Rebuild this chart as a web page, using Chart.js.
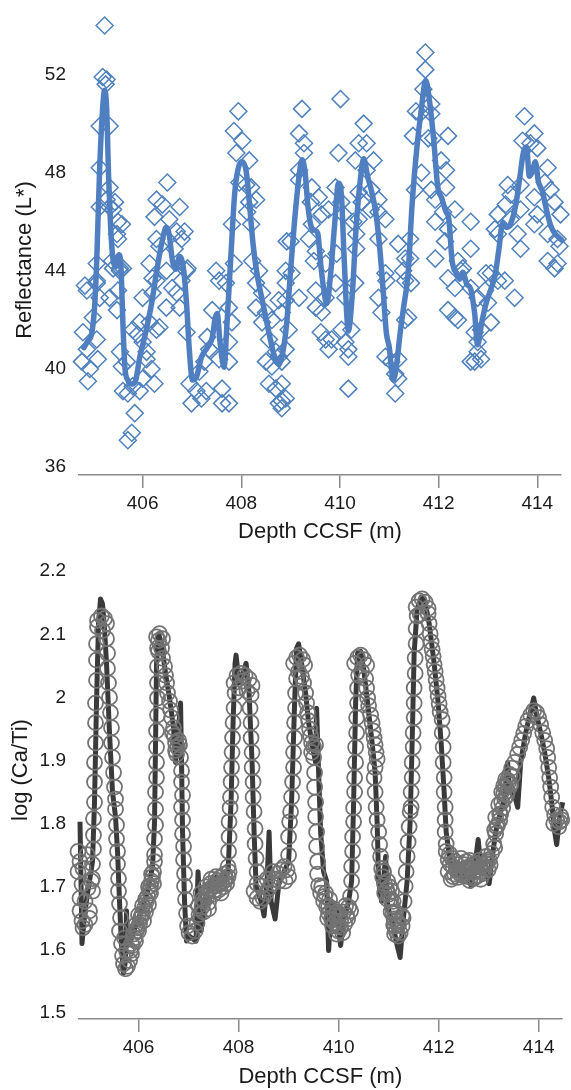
<!DOCTYPE html>
<html>
<head>
<meta charset="utf-8">
<script src="https://cdn.jsdelivr.net/npm/chart.js@4.4.0/dist/chart.umd.min.js"></script>
<style>
  body { margin: 0; background: #fff; }
  canvas { display: block; }
</style>
</head>
<body>
<canvas id="reflChart" width="571" height="545"></canvas>
<canvas id="caTiChart" width="571" height="545"></canvas>
<script>
// ---- data ----
const depthTicks = [406, 408, 410, 412, 414];
const reflTicks = [36, 40, 44, 48, 52];
const caTiTicks = [1.5, 1.6, 1.7, 1.8, 1.9, 2.0, 2.1, 2.2];

// reflectance L* measurements (diamonds): [depth m, L*]
const reflPoints = [
  [405.23,54.0],[405.19,51.9],[405.27,51.8],[405.25,51.6],[405.13,49.9],[405.33,49.9],[405.13,48.2],[405.33,47.4],
  [405.13,46.6],[405.33,46.6],[405.40,46.5],[405.27,46.9],[405.44,46.8],[405.50,46.0],[405.58,45.9],[405.48,45.5],
  [405.50,45.3],[405.38,44.4],[405.54,44.1],[405.60,44.1],[405.07,44.3],[405.07,43.6],[404.83,43.4],
  [406.50,47.6],[406.28,46.9],[406.40,46.7],[406.75,46.6],[406.24,46.2],[406.54,46.1],[406.28,45.3],[406.69,45.6],
  [406.85,45.6],[406.79,45.3],[406.34,45.0],[406.65,44.9],[406.14,44.3],[406.91,44.1],[406.20,43.7],[406.79,43.6],
  [407.94,50.5],[407.85,49.7],[408.02,49.3],[407.90,48.8],[408.16,48.5],[408.10,47.5],[407.96,47.6],[408.20,47.4],
  [408.16,46.8],[407.81,45.9],[408.12,46.4],[408.20,45.9],[408.30,46.9],[408.22,44.4],[407.85,44.3],[408.36,44.0],
  [407.49,44.0],[407.55,43.6],[408.92,45.2],[408.90,44.0],
  [409.23,50.6],[409.17,49.6],[409.27,49.2],[409.27,48.8],[409.17,48.1],[409.17,47.7],[409.43,47.4],[409.57,47.0],
  [409.41,46.8],[409.63,46.3],[409.43,45.9],[409.37,45.3],[409.00,45.2],[409.51,44.8],[409.47,44.4],
  [410.01,51.0],[409.97,48.8],[409.91,47.4],[410.03,46.8],[409.77,46.5],[410.07,46.3],[410.27,46.0],[410.33,44.9],
  [409.93,44.7],[409.71,44.3],
  [410.48,50.0],[410.38,49.2],[410.54,49.2],[410.31,48.5],[410.68,48.5],[410.54,48.1],[410.38,47.2],[410.64,47.3],
  [410.78,46.9],[410.44,46.8],[410.62,46.5],[410.78,46.4],[410.92,46.1],[410.38,46.1],[410.78,45.3],[410.33,45.5],
  [411.18,45.1],[410.94,43.6],[411.32,44.5],
  [411.73,52.9],[411.73,52.2],[411.69,51.4],[411.85,50.8],[411.54,50.5],[411.62,50.4],[411.85,50.4],[411.89,49.4],
  [411.48,49.5],[412.19,49.5],[411.79,49.4],[411.65,48.0],[411.52,47.3],[412.05,48.5],[412.15,48.1],[411.85,47.3],
  [411.93,46.9],[412.15,47.4],[412.09,46.4],[412.33,46.5],[411.93,46.0],[412.19,45.7],[412.65,46.0],[412.13,45.2],
  [412.65,44.9],[411.93,44.5],[412.39,44.4],[412.49,44.1],[411.42,45.3],[411.42,44.5],[411.28,44.0],
  [413.74,50.3],[413.94,49.6],[413.70,49.3],[414.00,49.0],[413.86,49.2],[413.40,47.5],[413.46,47.1],[413.66,47.5],
  [414.21,48.2],[414.15,47.6],[413.94,47.0],[414.35,46.8],[414.27,47.3],[414.47,46.3],[414.00,46.3],[413.36,46.7],
  [413.20,46.3],[413.14,45.7],[413.46,46.1],[413.66,46.5],[413.94,45.9],[414.21,45.5],[414.41,45.3],[413.20,45.5],
  [413.60,45.5],[413.66,44.9],[414.21,44.4],[414.41,44.3],[414.45,45.0],[412.96,43.9],
  [404.87,43.2],[405.07,43.5],[405.13,42.9],[404.99,42.1],[404.79,41.5],[404.87,40.8],[404.77,40.3],[404.93,40.0],
  [404.89,39.5],[405.09,40.4],[405.07,41.2],[405.33,42.9],[405.48,42.4],[405.50,43.2],[405.54,44.0],[405.40,44.1],
  [405.54,40.7],[405.58,40.1],[405.68,40.3],[405.60,39.1],[405.70,39.0],[405.80,39.3],[405.94,39.1],[405.84,38.2],
  [405.78,37.4],[405.70,37.1],[405.80,41.6],[405.90,41.4],[406.00,41.1],[406.08,40.4],[406.00,39.6],[406.24,39.4],
  [406.08,40.7],[406.18,40.0],[405.94,41.9],[406.14,41.9],
  [406.00,42.9],[406.20,43.1],[406.28,43.6],[406.48,44.0],[406.28,41.6],[406.34,41.7],[406.48,42.5],[406.69,43.1],
  [406.75,42.5],[406.60,43.3],[406.89,44.0],
  [406.89,41.5],[406.95,39.4],[407.09,39.1],[406.99,38.6],[407.19,38.8],[407.29,39.1],[407.15,39.9],[407.25,40.3],
  [407.35,40.8],[407.31,41.3],[407.69,43.5],[407.41,42.4],[407.75,42.5],[407.81,41.9],[407.75,41.1],[407.75,40.3],
  [407.61,39.2],[407.61,38.6],[407.75,38.6],[407.55,40.4],
  [408.30,43.5],[408.42,43.1],[408.30,42.5],[408.50,42.3],[408.42,41.9],[408.62,42.0],[408.56,41.2],[408.70,40.7],
  [408.50,40.3],[408.62,40.1],[408.76,40.5],[408.56,39.4],[408.70,39.2],[408.82,38.7],[408.76,38.6],[408.90,43.5],
  [408.90,42.8],[408.82,42.3],
  [408.76,42.8],[408.96,41.6],[408.90,40.8],[408.82,40.3],[408.82,39.4],[408.90,38.8],[408.82,38.4],[409.02,43.9],
  [409.17,42.9],[409.51,42.5],[409.63,42.3],[409.71,41.2],[409.61,41.5],[409.83,41.2],[409.77,40.8],[410.03,41.6],
  [410.11,41.1],[410.23,41.6],[410.17,40.8],[410.17,40.5],[410.17,39.2],[410.11,42.9],[409.91,43.5],[410.31,43.5],
  [409.51,43.2],[409.71,42.9],
  [410.78,42.9],[410.84,42.3],[410.92,40.5],[411.04,40.3],[411.12,39.8],[411.18,40.4],[411.18,39.6],[411.12,39.0],
  [411.32,42.0],[411.38,42.1],[411.44,43.5],[411.32,43.6],[410.92,43.9],
  [412.19,43.7],[412.33,43.3],[412.19,42.4],[412.33,42.1],[412.39,42.0],[412.65,43.3],[412.79,42.9],[412.94,43.2],
  [413.06,43.9],[413.20,43.6],[413.34,43.6],[413.54,42.9],[413.00,42.7],[413.06,41.9],[412.86,41.6],[412.73,41.5],
  [412.79,41.1],[412.79,40.7],[412.73,40.3],[412.86,40.4],[412.65,40.3],[412.45,44.0],[414.35,44.1]
];

// smoothed reflectance curve: [depth m, L*]
const reflSmooth = [
  [404.81,40.87],[404.89,41.15],[404.97,41.47],[405.03,42.66],[405.07,44.46],[405.13,48.25],[405.19,50.64],
  [405.23,51.36],[405.27,50.64],[405.31,47.85],[405.35,45.85],[405.40,44.46],[405.46,44.18],[405.52,44.66],
  [405.56,44.18],[405.60,41.86],[405.64,40.07],[405.70,39.55],[405.78,39.39],[405.86,39.55],[405.94,40.47],
  [406.06,41.47],[406.18,42.66],[406.30,44.18],[406.40,45.26],[406.48,45.78],[406.54,45.46],[406.60,44.46],
  [406.67,44.06],[406.75,44.58],[406.83,44.06],[406.89,42.66],[406.95,40.67],[407.01,39.55],[407.09,39.67],
  [407.19,40.47],[407.31,40.87],[407.41,41.27],[407.47,42.06],[407.51,42.26],[407.57,41.07],[407.65,40.07],
  [407.71,41.86],[407.79,44.66],[407.87,47.25],[407.96,48.33],[408.02,48.45],[408.10,48.05],[408.16,46.85],
  [408.24,45.06],[408.32,43.86],[408.44,42.66],[408.56,41.47],[408.68,40.47],[408.76,40.19],[408.84,40.67],
  [408.92,41.86],[409.00,44.06],[409.08,46.05],[409.17,47.85],[409.23,48.53],[409.29,48.05],[409.35,46.65],
  [409.41,45.85],[409.49,45.65],[409.55,45.53],[409.61,44.26],[409.67,43.26],[409.73,42.66],[409.81,43.86],
  [409.89,45.85],[409.97,47.57],[410.03,47.05],[410.09,44.26],[410.17,41.55],[410.25,43.06],[410.33,45.85],
  [410.42,47.85],[410.48,48.57],[410.56,47.85],[410.64,47.25],[410.72,46.45],[410.80,45.06],[410.88,43.06],
  [410.94,41.47],[411.00,40.87],[411.04,40.07],[411.08,39.55],[411.14,40.07],[411.22,41.47],[411.30,42.66],
  [411.38,43.86],[411.46,46.65],[411.56,49.05],[411.64,50.44],[411.74,51.76],[411.82,50.84],[411.90,49.33],
  [411.98,47.45],[412.06,46.97],[412.14,46.45],[412.21,46.05],[412.27,44.46],[412.35,43.94],[412.43,43.66],
  [412.49,43.94],[412.57,43.46],[412.65,43.26],[412.73,42.26],[412.79,40.99],[412.87,41.86],[412.96,42.66],
  [413.06,43.26],[413.14,43.78],[413.22,44.86],[413.30,45.97],[413.38,45.77],[413.46,45.93],[413.56,46.65],
  [413.64,47.73],[413.72,48.85],[413.78,49.05],[413.84,47.85],[413.90,48.05],[413.96,48.45],[414.02,47.65],
  [414.10,47.25],[414.19,46.45],[414.27,45.85],[414.35,45.53],[414.43,45.37],[414.49,45.26]
];

// log(Ca/Ti) samples (open circles): [depth m, log ratio]
const caTiPoints = [
  [404.79,1.756],[404.83,1.740],[404.79,1.724],[404.87,1.704],[404.83,1.682],[404.83,1.662],[404.87,1.646],[404.89,1.635],
  [404.93,1.677],[404.99,1.698],[405.06,1.709],[405.08,1.693],[405.02,1.662],[404.89,1.729],[404.97,1.751],[404.93,1.640],
  [405.02,1.650],
  [405.08,1.713],[405.08,1.736],[405.10,1.760],[405.10,1.782],[405.10,1.808],[405.12,1.834],[405.12,1.866],[405.12,1.897],
  [405.14,1.928],[405.14,1.960],[405.14,1.991],[405.16,2.027],[405.16,2.059],[405.16,2.085],[405.18,2.112],
  [405.18,2.122],[405.26,2.129],[405.32,2.125],[405.36,2.117],[405.28,2.106],
  [405.36,2.093],[405.38,2.070],[405.38,2.046],[405.40,2.023],[405.42,2.000],[405.44,1.976],[405.46,1.952],[405.46,1.928],
  [405.48,1.905],[405.50,1.881],[405.52,1.858],[405.54,1.839],[405.54,1.823],[405.56,1.798],[405.56,1.776],[405.58,1.756],
  [405.58,1.736],[405.60,1.713],[405.60,1.693],[405.62,1.673],[405.64,1.651],
  [405.62,1.630],[405.66,1.610],[405.68,1.591],[405.70,1.578],[405.74,1.570],[405.78,1.574],[405.82,1.583],[405.76,1.599],
  [405.86,1.594],[405.72,1.619],
  [405.88,1.607],[405.92,1.619],[405.96,1.630],[406.02,1.641],[406.06,1.654],[406.12,1.666],[406.16,1.677],[406.22,1.693],
  [406.26,1.709],[406.30,1.724],[406.32,1.740],[405.84,1.599],[405.98,1.635],[406.08,1.658],[406.18,1.685],[406.24,1.701],
  [405.94,1.614],[406.10,1.646],[406.20,1.672],[406.28,1.716],
  [405.90,1.625],[405.95,1.640],[406.00,1.630],[406.04,1.650],[406.08,1.670],[406.14,1.660],[406.14,1.680],[406.20,1.700],
  [406.24,1.690],[406.26,1.720],[406.30,1.705],[406.00,1.655],[405.86,1.610],
  [406.32,1.751],[406.32,1.776],[406.34,1.798],[406.34,1.823],[406.34,1.850],[406.36,1.873],[406.36,1.897],[406.36,1.921],
  [406.36,1.947],[406.38,1.972],[406.38,1.999],[406.38,2.023],[406.38,2.049],[406.40,2.073],[406.40,2.090],
  [406.36,2.096],[406.42,2.101],[406.48,2.093],[406.38,2.078],
  [406.46,2.078],[406.48,2.062],[406.52,2.049],[406.54,2.035],[406.56,2.023],[406.58,2.007],[406.62,1.994],[406.64,1.980],
  [406.66,1.968],[406.70,1.952],[406.72,1.939],[406.74,1.928],[406.78,1.921],[406.82,1.925],[406.76,1.910],[406.68,1.944],
  [406.74,1.916],[406.80,1.932],
  [406.84,1.905],[406.86,1.884],[406.86,1.866],[406.88,1.845],[406.86,1.826],[406.88,1.806],[406.88,1.784],[406.90,1.764],
  [406.90,1.743],[406.92,1.721],[406.92,1.701],[406.94,1.680],[406.96,1.658],[406.98,1.638],
  [407.01,1.627],[407.07,1.622],[407.13,1.630],
  [407.17,1.643],[407.21,1.656],[407.27,1.668],[407.31,1.677],[407.37,1.685],[407.41,1.693],[407.45,1.698],[407.51,1.701],
  [407.57,1.702],[407.61,1.704],[407.65,1.705],[407.71,1.709],[407.75,1.712],[407.79,1.716],[407.81,1.724],
  [407.25,1.690],[407.35,1.700],[407.45,1.712],[407.55,1.716],[407.65,1.690],[407.30,1.660],[407.40,1.675],[407.50,1.688],
  [407.60,1.695],[407.70,1.700],
  [407.20,1.670],[407.28,1.680],[407.36,1.690],[407.44,1.705],[407.52,1.695],[407.58,1.710],[407.64,1.715],[407.72,1.720],
  [407.76,1.705],[407.40,1.665],
  [407.79,1.732],[407.80,1.756],[407.81,1.779],[407.81,1.803],[407.83,1.825],[407.84,1.842],[407.85,1.866],[407.86,1.889],
  [407.87,1.913],[407.88,1.936],[407.89,1.960],[407.91,1.983],[407.93,2.007],
  [407.91,2.023],[407.97,2.035],[408.05,2.038],[408.13,2.035],[408.21,2.029],[408.27,2.019],[408.01,2.015],[408.17,2.010],
  [408.09,2.026],[408.25,2.004],
  [408.23,1.983],[408.25,1.960],[408.25,1.936],[408.27,1.913],[408.27,1.889],[408.29,1.866],[408.29,1.842],[408.31,1.819],
  [408.33,1.792],[408.33,1.768],[408.35,1.745],[408.37,1.724],[408.37,1.705],
  [408.31,1.693],[408.37,1.682],[408.43,1.677],[408.49,1.682],[408.55,1.690],[408.61,1.698],[408.67,1.705],[408.73,1.712],
  [408.79,1.721],[408.85,1.727],[408.91,1.732],[408.97,1.727],[409.00,1.716],[408.45,1.701],[408.57,1.712],[408.69,1.724],
  [408.81,1.709],[408.93,1.709],
  [409.00,1.779],[409.02,1.803],[409.04,1.819],[409.06,1.842],[409.08,1.866],[409.10,1.889],[409.10,1.913],[409.12,1.936],
  [409.12,1.960],[409.14,1.983],[409.14,2.007],[409.16,2.030],[409.00,1.750],
  [409.10,2.054],[409.16,2.063],[409.22,2.067],[409.28,2.060],[409.32,2.051],[409.20,2.041],[409.26,2.033],
  [409.30,2.023],[409.34,2.007],[409.36,1.991],[409.38,1.976],[409.40,1.963],[409.42,1.950],[409.44,1.939],[409.46,1.928],
  [409.50,1.921],[409.54,1.925],[409.46,1.913],
  [409.50,1.905],[409.52,1.881],[409.52,1.858],[409.54,1.834],[409.54,1.811],[409.56,1.787],[409.56,1.764],[409.58,1.740],
  [409.58,1.720],
  [409.60,1.702],[409.64,1.690],[409.70,1.677],[409.76,1.668],[409.80,1.658],[409.86,1.649],[409.92,1.643],[409.98,1.638],
  [410.04,1.636],[410.12,1.641],[410.18,1.649],[410.24,1.662],[409.72,1.685],[409.80,1.669],[409.92,1.654],[410.04,1.646],
  [410.16,1.654],[409.88,1.638],[410.00,1.630],[410.08,1.627],
  [409.66,1.700],[409.74,1.690],[409.82,1.680],[409.90,1.665],[409.96,1.660],[410.02,1.655],[410.10,1.660],[410.14,1.670],
  [410.20,1.668],[409.78,1.650],[409.96,1.625],
  [410.24,1.685],[410.26,1.709],[410.26,1.732],[410.28,1.756],[410.28,1.779],[410.30,1.803],[410.30,1.825],[410.32,1.850],
  [410.32,1.873],[410.34,1.897],[410.34,1.921],[410.36,1.944],[410.36,1.968],[410.38,1.991],[410.38,2.015],[410.40,2.035],
  [410.32,2.054],[410.38,2.063],[410.44,2.067],[410.50,2.060],[410.56,2.051],[410.46,2.041],
  [410.54,2.030],[410.56,2.015],[410.58,1.999],[410.60,1.987],[410.64,1.972],[410.67,1.960],[410.69,1.947],[410.71,1.936],
  [410.73,1.925],[410.75,1.913],[410.77,1.902],[410.73,1.889],
  [410.71,1.873],[410.73,1.850],[410.75,1.826],[410.77,1.806],[410.80,1.787],[410.82,1.767],[410.84,1.748],[410.86,1.729],
  [410.88,1.716],[410.92,1.705],[410.96,1.696],[411.00,1.688],[411.04,1.680],[411.07,1.669],[411.09,1.658],[411.11,1.649],
  [411.13,1.638],[411.15,1.630],[411.19,1.622],[411.23,1.627],[411.27,1.638],[411.29,1.651],[410.90,1.724],[410.98,1.709],
  [411.06,1.693],[411.09,1.677],[411.17,1.646],
  [410.92,1.690],[410.98,1.680],[411.02,1.700],[411.05,1.660],[411.10,1.640],[411.14,1.660],[411.20,1.640],[411.12,1.625],
  [411.27,1.654],[411.31,1.677],[411.33,1.701],[411.35,1.724],[411.37,1.748],[411.39,1.771],[411.41,1.795],[411.43,1.819],
  [411.45,1.826],[411.45,1.850],[411.47,1.873],[411.47,1.897],[411.49,1.921],[411.49,1.944],[411.51,1.968],[411.51,1.991],
  [411.51,2.015],[411.53,2.038],[411.53,2.062],[411.55,2.085],[411.55,2.109],[411.57,2.129],
  [411.55,2.143],[411.61,2.153],[411.67,2.156],[411.73,2.151],[411.79,2.141],[411.63,2.132],
  [411.79,2.133],[411.81,2.117],[411.83,2.101],[411.85,2.088],[411.87,2.076],[411.89,2.065],[411.91,2.052],[411.93,2.041],
  [411.95,2.028],[411.97,2.015],[411.99,2.002],[412.01,1.990],[412.03,1.977],[412.07,1.965],
  [412.07,1.944],[412.09,1.921],[412.09,1.897],[412.11,1.873],[412.11,1.850],[412.13,1.826],[412.13,1.806],[412.13,1.787],
  [412.15,1.768],
  [412.15,1.756],[412.19,1.743],[412.23,1.736],[412.29,1.731],[412.35,1.727],[412.41,1.726],[412.47,1.727],[412.53,1.729],
  [412.59,1.731],[412.65,1.727],[412.71,1.724],[412.77,1.727],[412.83,1.731],[412.89,1.734],[412.95,1.737],[413.01,1.743],
  [413.06,1.753],[413.12,1.762],[412.19,1.724],[412.29,1.716],[412.39,1.715],[412.49,1.718],[412.59,1.716],[412.69,1.713],
  [412.79,1.718],[412.89,1.721],[412.99,1.727],[412.33,1.740],[412.55,1.740],[412.75,1.737],[412.95,1.748],
  [412.22,1.752],[412.27,1.745],[412.32,1.720],[412.37,1.735],[412.43,1.720],[412.45,1.745],[412.51,1.735],[412.57,1.722],
  [412.62,1.742],[412.67,1.735],[412.73,1.715],[412.81,1.742],[412.86,1.725],[412.92,1.730],[412.97,1.740],[413.03,1.735],
  [412.25,1.712],[412.62,1.710],[412.84,1.712],
  [413.10,1.768],[413.14,1.784],[413.18,1.798],[413.22,1.815],[413.26,1.834],[413.30,1.847],[413.34,1.858],[413.38,1.869],
  [413.42,1.878],[413.46,1.888],[413.52,1.897],[413.58,1.910],[413.62,1.921],[413.66,1.932],[413.70,1.943],[413.74,1.954],
  [413.78,1.963],[413.84,1.972],[413.90,1.979],[413.96,1.976],[414.00,1.968],[414.04,1.957],[414.08,1.944],[414.12,1.932],
  [414.16,1.919],[414.18,1.905],[414.20,1.889],[414.22,1.873],[414.24,1.858],[414.26,1.842],[414.28,1.826],[414.32,1.814],
  [414.36,1.806],[414.42,1.803],[414.46,1.806],
  [413.14,1.810],[413.20,1.830],[413.30,1.860],[413.36,1.845],[413.24,1.815],[413.40,1.866],[414.30,1.800],[414.40,1.795],
  [414.44,1.812],
  [413.16,1.795],[413.22,1.805],[413.28,1.825],[413.32,1.840],[413.38,1.852],[413.44,1.862],[413.48,1.875],[413.26,1.850],
  [413.34,1.870],[413.12,1.790]
];

// log(Ca/Ti) high-resolution trace (dark line): [depth m, log ratio]
const caTiLine = [
  [404.83,1.803],[404.85,1.709],[404.87,1.610],[404.91,1.646],[404.97,1.685],[405.02,1.709],[405.08,1.740],[405.12,1.834],
  [405.16,1.991],[405.20,2.117],[405.24,2.156],[405.28,2.148],[405.32,2.109],[405.36,2.054],[405.42,1.944],[405.48,1.850],
  [405.54,1.811],[405.58,1.756],[405.62,1.677],[405.66,1.607],[405.70,1.563],[405.74,1.583],[405.76,1.662],[405.78,1.607],
  [405.84,1.614],[405.94,1.638],[406.06,1.662],[406.18,1.693],[406.28,1.732],[406.32,1.803],[406.34,1.928],[406.36,2.054],
  [406.40,2.101],[406.46,2.085],[406.54,2.038],[406.62,1.999],[406.70,1.952],[406.74,1.897],[406.78,1.928],[406.84,1.991],
  [406.86,1.897],[406.88,1.787],[406.92,1.677],[406.96,1.614],[407.01,1.622],[407.15,1.614],[407.19,1.724],[407.25,1.630],
  [407.33,1.677],[407.45,1.709],[407.57,1.716],[407.69,1.709],[407.79,1.724],[407.85,1.834],[407.89,1.960],[407.93,2.054],
  [407.95,2.067],[408.01,2.023],[408.09,2.038],[408.15,2.054],[408.21,2.007],[408.27,1.897],[408.31,1.787],[408.35,1.701],
  [408.45,1.677],[408.51,1.654],[408.57,1.709],[408.61,1.787],[408.65,1.677],[408.73,1.649],[408.81,1.709],[408.91,1.724],
  [409.00,1.740],[409.06,1.834],[409.12,1.991],[409.16,2.078],[409.20,2.085],[409.26,2.054],[409.34,2.007],[409.40,1.960],
  [409.48,1.921],[409.54,1.897],[409.56,1.983],[409.60,1.881],[409.64,1.787],[409.70,1.724],[409.76,1.709],[409.80,1.599],
  [409.86,1.677],[409.96,1.662],[410.04,1.607],[410.10,1.646],[410.20,1.677],[410.26,1.709],[410.30,1.834],[410.34,1.991],
  [410.38,2.070],[410.44,2.073],[410.50,2.046],[410.58,1.991],[410.67,1.928],[410.73,1.881],[410.77,1.803],[410.80,1.709],
  [410.86,1.677],[410.94,1.748],[410.98,1.669],[411.07,1.646],[411.15,1.614],[411.23,1.588],[411.29,1.646],[411.37,1.709],
  [411.43,1.803],[411.47,1.928],[411.51,2.070],[411.57,2.140],[411.65,2.159],[411.73,2.151],[411.81,2.117],[411.91,2.054],
  [411.99,1.991],[412.05,1.928],[412.11,1.850],[412.15,1.787],[412.23,1.740],[412.35,1.724],[412.49,1.716],[412.59,1.727],
  [412.65,1.701],[412.71,1.724],[412.79,1.775],[412.85,1.727],[412.95,1.724],[413.01,1.705],[413.06,1.740],[413.14,1.787],
  [413.24,1.819],[413.32,1.842],[413.38,1.897],[413.42,1.850],[413.50,1.850],[413.58,1.826],[413.64,1.897],[413.74,1.944],
  [413.82,1.972],[413.90,1.999],[413.96,1.972],[414.04,1.944],[414.12,1.913],[414.20,1.873],[414.26,1.834],[414.32,1.787],
  [414.36,1.767],[414.42,1.811],[414.48,1.834]
];

// ---- chart setup ----
const FONT = "'Liberation Sans', Arial, sans-serif";
const INK = '#1a1a1a';
const AXIS = '#8a8a8a';
const toXY = ([x, y]) => ({ x, y });

// rotated y-axis title drawn at a fixed spot (the original is not centred on the axis)
const sideTitle = {
  id: 'sideTitle',
  afterDraw(chart, args, opts) {
    const ctx = chart.ctx;
    ctx.save();
    ctx.translate(opts.x, opts.y);
    ctx.rotate(-Math.PI / 2);
    ctx.font = '22px ' + FONT;
    ctx.fillStyle = INK;
    ctx.textAlign = 'center';
    ctx.textBaseline = 'alphabetic';
    ctx.fillText(opts.text, 0, 0);
    ctx.restore();
  }
};

function depthAxis(min, max, height) {
  return {
    type: 'linear', min, max,
    afterBuildTicks: s => { s.ticks = depthTicks.map(v => ({ value: v })); },
    afterFit: s => { s.height = height; s.paddingLeft = 0; s.paddingRight = 0; },
    grid: { drawOnChartArea: false, drawTicks: true, tickLength: 13, color: AXIS, lineWidth: 1.5 },
    border: { display: true, color: AXIS, width: 1.5 },
    ticks: { font: { family: FONT, size: 19 }, color: INK, padding: 4, autoSkip: false, maxRotation: 0 },
    title: { display: true, text: 'Depth CCSF (m)', font: { family: FONT, size: 22 }, color: INK, padding: { top: 0, bottom: 0 } }
  };
}

function valueAxis(min, max, ticks, fmt) {
  return {
    min, max,
    afterBuildTicks: s => { s.ticks = ticks.map(v => ({ value: v })); },
    afterFit: s => { s.width = 79; s.paddingTop = 0; s.paddingBottom = 0; },
    grid: { display: false, drawTicks: false },
    border: { display: false },
    ticks: { font: { family: FONT, size: 19 }, color: INK, padding: 13, callback: fmt }
  };
}

new Chart(document.getElementById('reflChart'), {
  type: 'scatter',
  data: {
    datasets: [
      {
        data: reflSmooth.map(toXY), showLine: true, borderColor: '#4f7fc0', borderWidth: 5.5,
        pointRadius: 0, cubicInterpolationMode: 'monotone', borderCapStyle: 'round', borderJoinStyle: 'round',
        order: 0, clip: false
      },
      {
        data: reflPoints.map(toXY), showLine: false, pointStyle: 'rectRot', pointRadius: 8.5,
        pointBorderColor: '#4f81bd', pointBorderWidth: 1.5, pointBackgroundColor: 'rgba(0,0,0,0)',
        order: 1, clip: false
      }
    ]
  },
  options: {
    responsive: false, animation: false, devicePixelRatio: 1,
    layout: { padding: { left: 0, right: 7, top: 0, bottom: 0 } },
    plugins: { legend: { display: false }, tooltip: { enabled: false },
      sideTitle: { text: 'Reflectance (L*)', x: 31, y: 260 } },
    scales: {
      x: depthAxis(404.71, 414.48, 70),
      y: valueAxis(35.68, 54.63, reflTicks, v => String(v))
    }
  },
  plugins: [sideTitle]
});

new Chart(document.getElementById('caTiChart'), {
  type: 'scatter',
  data: {
    datasets: [
      {
        data: caTiPoints.map(toXY), showLine: false, pointStyle: 'circle', pointRadius: 7.5,
        pointBorderColor: '#737373', pointBorderWidth: 1.8, pointBackgroundColor: 'rgba(0,0,0,0)',
        order: 0, clip: false
      },
      {
        data: caTiLine.map(toXY), showLine: true, borderColor: '#3a3a3a', borderWidth: 5,
        pointRadius: 0, tension: 0, borderJoinStyle: 'round', order: 1, clip: false
      }
    ]
  },
  options: {
    responsive: false, animation: false, devicePixelRatio: 1,
    layout: { padding: { left: 0, right: 7, top: 5, bottom: 0 } },
    plugins: { legend: { display: false }, tooltip: { enabled: false },
      sideTitle: { text: 'log (Ca/Ti)', x: 27, y: 225 } },
    scales: {
      x: depthAxis(404.81, 414.46, 71),
      y: valueAxis(1.4906, 2.2267, caTiTicks, v => String(Math.round(v * 10) / 10))
    }
  },
  plugins: [sideTitle]
});
</script>
</body>
</html>
